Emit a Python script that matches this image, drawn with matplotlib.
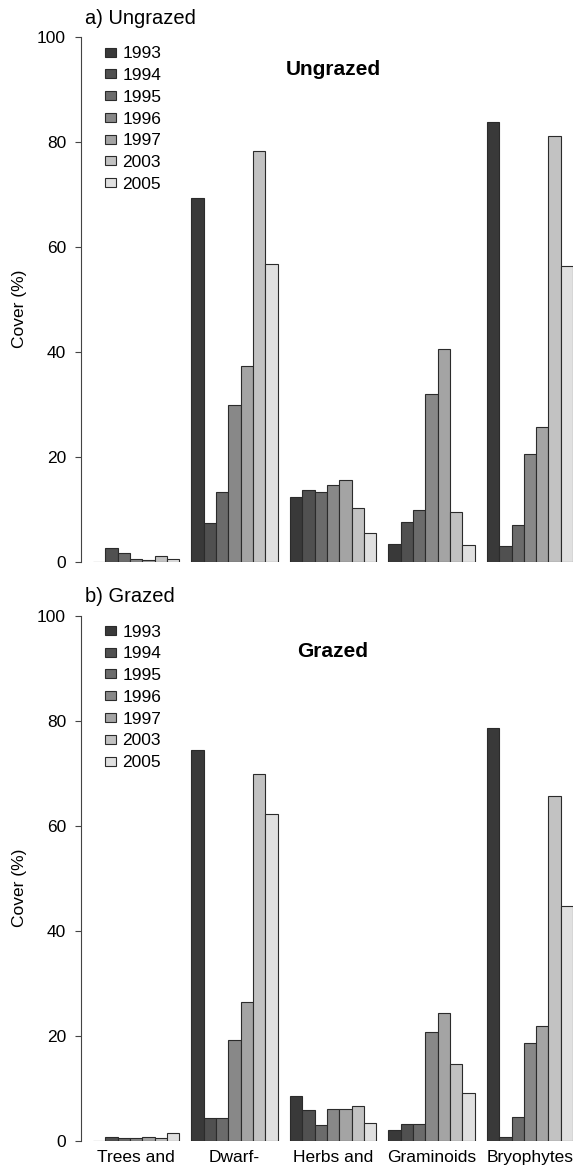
import numpy as np
import matplotlib
matplotlib.use("Agg")
import matplotlib.pyplot as plt

plt.rcParams["font.family"] = ["Liberation Sans", "DejaVu Sans"]

years = ["1993", "1994", "1995", "1996", "1997", "2003", "2005"]
groups = ["Trees and", "Dwarf-", "Herbs and", "Graminoids", "Bryophytes"]

# cover (%) per group (rows) and year (columns)
ungrazed_cover = np.array([
    [0.0, 2.7, 1.6, 0.6, 0.3, 1.0, 0.6],
    [69.3, 7.4, 13.2, 29.9, 37.3, 78.3, 56.8],
    [12.4, 13.6, 13.2, 14.6, 15.6, 10.2, 5.4],
    [3.4, 7.6, 9.8, 32.0, 40.5, 9.4, 3.1],
    [83.9, 2.9, 7.0, 20.6, 25.6, 81.2, 56.3],
])
grazed_cover = np.array([
    [0.0, 0.8, 0.5, 0.5, 0.8, 0.6, 1.4],
    [74.4, 4.3, 4.3, 19.2, 26.5, 69.9, 62.2],
    [8.6, 5.9, 3.0, 6.0, 6.0, 6.7, 3.3],
    [2.1, 3.2, 3.2, 20.8, 24.3, 14.6, 9.1],
    [78.7, 0.8, 4.5, 18.7, 21.9, 65.7, 44.7],
])

greys = ["#393939", "#505050", "#6b6b6b", "#888888", "#a4a4a4", "#c2c2c2", "#e0e0e0"]

W, H = 573, 1169
fig = plt.figure(figsize=(W / 100, H / 100), dpi=100)


def px_axes(left, top, right, bottom):
    return fig.add_axes([left / W, 1 - bottom / H, (right - left) / W, (bottom - top) / H])


def draw_panel(ax, cover, panel_title, title_px, inner_title, title_y, show_xlabels):
    n_groups, n_years = cover.shape
    for j in range(n_years):
        xs = np.arange(n_groups) * (n_years + 1) + 1 + j + 0.5
        ax.bar(xs, cover[:, j], width=1.0, color=greys[j], edgecolor="#2b2b2b",
               linewidth=0.8, label=years[j])
    ax.set_xlim(0, n_groups * (n_years + 1))
    ax.set_ylim(0, 100)

    for s in ["top", "right", "bottom"]:
        ax.spines[s].set_visible(False)
    ax.spines["left"].set_bounds(0, 100)
    ax.spines["left"].set_color("#444444")
    ax.set_yticks(np.arange(0, 101, 20))
    ax.tick_params(axis="y", direction="out", length=4.5, width=0.8, pad=6,
                   labelsize=12.5, color="#444444")
    ax.set_ylabel("Cover (%)", fontsize=12.5)
    ax.yaxis.set_label_coords(-0.11, 0.482)

    centers = np.arange(n_groups) * (n_years + 1) + 1 + n_years / 2
    ax.set_xticks(centers)
    if show_xlabels:
        ax.set_xticklabels(groups, fontsize=12.5)
    else:
        ax.set_xticklabels([])
    ax.tick_params(axis="x", length=0, pad=7)

    ax.legend(loc="upper left", bbox_to_anchor=(0.049, 0.983), frameon=False,
              fontsize=12.5, handlelength=0.65, handleheight=0.42,
              handletextpad=0.35, labelspacing=0.39, borderpad=0, borderaxespad=0)

    ax.text(20.5, title_y, inner_title, fontsize=15, fontweight="bold",
            ha="center", va="baseline")
    fig.text(title_px[0] / W, 1 - title_px[1] / H, panel_title, fontsize=14.5,
             ha="left", va="baseline")


ax_a = px_axes(80.7, 37.3, 573.1, 561.7)
draw_panel(ax_a, ungrazed_cover, "a) Ungrazed", (85, 24.3), "Ungrazed", 92.8, False)

ax_b = px_axes(80.7, 615.7, 573.1, 1140.7)
draw_panel(ax_b, grazed_cover, "b) Grazed", (85, 601.7), "Grazed", 92.1, True)

fig.savefig("out.png", dpi=100)
